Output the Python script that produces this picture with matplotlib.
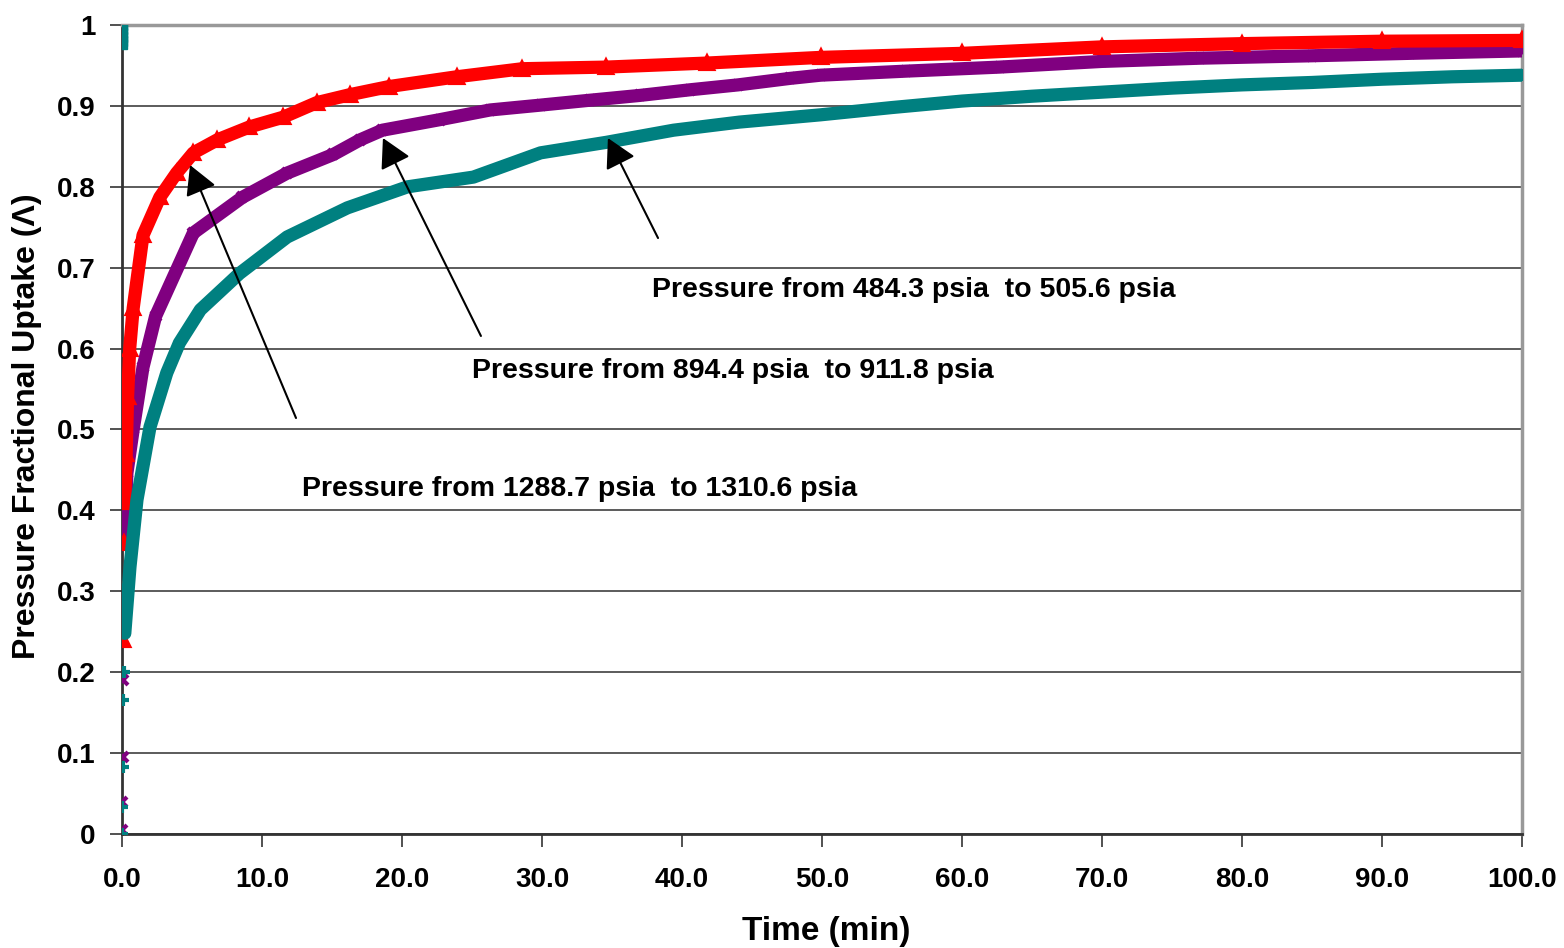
import numpy as np
import matplotlib
matplotlib.use('Agg')
import matplotlib.pyplot as plt

#============================================================
# Pressure fractional uptake vs time, three pressure steps
#============================================================

# step 484.3 -> 505.6 psia (red)
t_red = [0.05, 0.1, 0.15, 0.2, 0.3, 0.4, 0.55, 0.8, 1.5, 2.7, 3.9, 5.1, 6.8, 9.1,
         11.5, 13.9, 16.3, 19.1, 23.9, 28.6, 34.6, 41.8, 49.9, 60.0, 70.0, 80.0, 90.0, 100.0]
v_red = [0.24, 0.30, 0.36, 0.41, 0.47, 0.54, 0.60, 0.65, 0.74, 0.787, 0.817, 0.842, 0.858, 0.874,
         0.886, 0.904, 0.914, 0.924, 0.936, 0.946, 0.948, 0.953, 0.960, 0.965, 0.973, 0.977, 0.980, 0.981]

# step 894.4 -> 911.8 psia (purple)
t_pur = [0.0, 0.03, 0.06, 0.09, 0.12, 0.2, 0.35, 0.8, 1.5, 2.4, 5.1, 8.6, 11.8, 15.1, 17.0,
         18.6, 22.7, 26.3, 29.9, 33.4, 37.0, 40.6, 44.0, 47.7, 49.9, 56.0, 62.7, 70.0, 77.0,
         85.0, 92.0, 100.0]
v_pur = [0.005, 0.04, 0.095, 0.19, 0.29, 0.372, 0.446, 0.50, 0.577, 0.64, 0.743, 0.787, 0.817,
         0.840, 0.858, 0.870, 0.883, 0.895, 0.901, 0.907, 0.913, 0.920, 0.926, 0.934, 0.938,
         0.943, 0.948, 0.955, 0.959, 0.962, 0.965, 0.968]

# step 1288.7 -> 1310.6 psia (teal)
t_teal = [0.0, 0.03, 0.06, 0.1, 0.15, 0.2, 0.57, 1.07, 2.0, 3.2, 4.1, 5.6, 8.4, 11.8, 16.1,
          20.4, 25.1, 29.9, 34.6, 39.4, 44.1, 49.9, 55.0, 60.0, 65.0, 70.0, 75.0, 80.0, 85.0,
          90.0, 95.0, 100.0]
v_teal = [0.0, 0.033, 0.083, 0.166, 0.20, 0.248, 0.33, 0.413, 0.503, 0.57, 0.607, 0.648, 0.693,
          0.738, 0.774, 0.800, 0.812, 0.842, 0.855, 0.870, 0.880, 0.889, 0.898, 0.906, 0.912,
          0.917, 0.922, 0.926, 0.929, 0.933, 0.936, 0.938]
# stray readings logged at t=0 before the step
t_teal0 = [0.0, 0.0, 0.0, 0.0, 0.0, 0.0]
v_teal0 = [0.976, 0.980, 0.985, 0.990, 0.995, 1.0]

labels = ['Pressure from 484.3 psia  to 505.6 psia',
          'Pressure from 894.4 psia  to 911.8 psia',
          'Pressure from 1288.7 psia  to 1310.6 psia']

RED = '#FF0000'
PURPLE = '#800080'
TEAL = '#008080'
FONT = 'Liberation Sans'

fig = plt.figure(figsize=(15.64, 9.48), dpi=100)
ax = fig.add_axes([0.078, 0.1203, 0.8951, 0.8533])


def plotSeries(t, v, color, marker, ms, vmin):
    t = np.asarray(t)
    v = np.asarray(v)
    dense = v >= vmin
    # thick band where the samples overlap, single markers lower down
    ax.plot(t[dense], v[dense], color=color, lw=9.5, solid_capstyle='round',
            solid_joinstyle='round', zorder=3)
    ax.plot(t, v, ls='none', marker=marker, ms=ms, color=color, mec=color,
            mew=3, zorder=3)


plotSeries(t_pur, v_pur, PURPLE, 'x', 7, 0.37)
plotSeries(t_red, v_red, RED, '^', 8, 0.40)
plotSeries(t_teal, v_teal, TEAL, '+', 8, 0.24)
ax.plot(t_teal0, v_teal0, ls='none', marker='s', ms=7, color=TEAL, zorder=3)

ax.set_xlim(0, 100)
ax.set_ylim(0, 1)
ax.set_xticks(np.arange(0, 101, 10))
ax.set_xticklabels(['%.1f' % x for x in np.arange(0, 101, 10)])
yt = np.round(np.arange(0, 1.01, 0.1), 1)
ax.set_yticks(yt)
ax.set_yticklabels(['0' if y == 0 else '1' if y == 1 else '%.1f' % y for y in yt])
ax.yaxis.grid(True, color='#404040', lw=1.2)
ax.set_axisbelow(True)

for lab in ax.get_xticklabels() + ax.get_yticklabels():
    lab.set_fontfamily(FONT)
    lab.set_fontweight('bold')
    lab.set_fontsize(20)

ax.tick_params(axis='x', direction='out', length=9, width=1.2, color='#333333', pad=15)
ax.tick_params(axis='y', direction='out', length=9, width=1.2, color='#333333', pad=10)

ax.spines['left'].set_color('#333333')
ax.spines['left'].set_linewidth(2)
ax.spines['bottom'].set_color('#333333')
ax.spines['bottom'].set_linewidth(2)
ax.spines['top'].set_color('#999999')
ax.spines['top'].set_linewidth(2.5)
ax.spines['right'].set_color('#999999')
ax.spines['right'].set_linewidth(2.5)

ax.set_xlabel('Time (min)', fontfamily=FONT, fontweight='bold', fontsize=24)
ax.set_ylabel('Pressure Fractional Uptake (\u039b)', fontfamily=FONT,
              fontweight='bold', fontsize=23)
ax.xaxis.set_label_coords(0.503, -0.101)
ax.yaxis.set_label_coords(-0.057, 0.504)

# labels and arrows pointing at each curve
txt_pos = [(37.86, 0.6724), (25.0, 0.5723), (12.86, 0.4265)]
arrows = [((38.29, 0.7367), (34.71, 0.8603)),
          ((25.64, 0.6156), (18.64, 0.8603)),
          ((12.43, 0.5142), (4.86, 0.8269))]
for lab, (tx, ty), (tail, tip) in zip(labels, txt_pos, arrows):
    ax.text(tx, ty, lab, fontfamily=FONT, fontweight='bold', fontsize=20.5,
            ha='left', va='center', zorder=5)
    ax.annotate('', xy=tip, xytext=tail,
                arrowprops=dict(arrowstyle='-|>,head_length=1.0,head_width=0.55',
                                color='black', lw=1.5, mutation_scale=18,
                                shrinkA=0, shrinkB=0), zorder=5)

fig.savefig('out.png', dpi=100)
